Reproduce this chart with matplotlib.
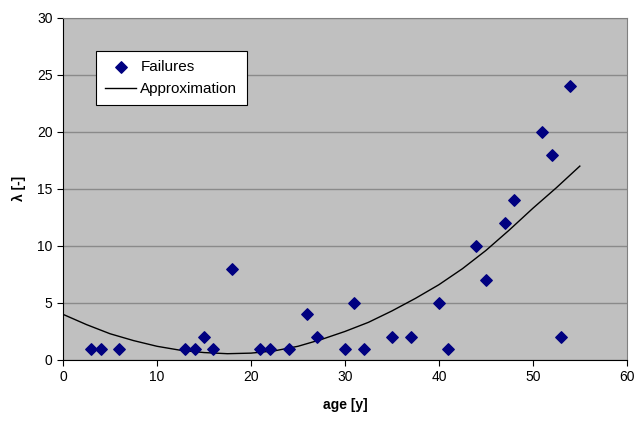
import matplotlib
matplotlib.use('Agg')
from matplotlib import pyplot as plt

plt.rcParams['font.family'] = ['Liberation Sans', 'DejaVu Sans']

# failure data
age = [3, 4, 6, 13, 14, 15, 16, 18, 21, 22, 24, 26, 27, 30, 31, 32, 35, 37,
       40, 41, 44, 45, 47, 48, 51, 52, 53, 54]
failures = [1, 1, 1, 1, 1, 2, 1, 8, 1, 1, 1, 4, 2, 1, 5, 1, 2, 2,
            5, 1, 10, 7, 12, 14, 20, 18, 2, 24]

# approximation curve
approx_x = [0, 2.5, 5, 7.5, 10, 12.5, 15, 17.5, 20, 22.5, 25, 27.5, 30,
            32.5, 35, 37.5, 40, 42.5, 45, 47.5, 50, 52.5, 55]
approx_y = [4.0, 3.1, 2.3, 1.7, 1.2, 0.85, 0.65, 0.55, 0.6, 0.8, 1.2, 1.8, 2.5,
            3.3, 4.3, 5.4, 6.6, 8.0, 9.6, 11.4, 13.3, 15.1, 17.0]

fig = plt.figure(figsize=(6.37, 4.25), dpi=100)
ax = fig.add_axes([0.099, 0.153, 0.885, 0.805])
ax.set_facecolor('#c0c0c0')

ax.scatter(age, failures, marker='D', s=34, color='#000080', zorder=3, label='Failures')
ax.plot(approx_x, approx_y, color='black', lw=1.0, zorder=2, label='Approximation')

ax.set_xlim(0, 60)
ax.set_ylim(0, 30)
ax.set_xticks(range(0, 61, 10))
ax.set_yticks(range(0, 31, 5))
ax.yaxis.grid(True, color='#8a8a8a', lw=1.0)
ax.set_axisbelow(True)
ax.tick_params(direction='out', length=4, labelsize=10, color='black')

ax.spines['top'].set_color('#808080')
ax.spines['right'].set_color('#808080')
ax.spines['left'].set_color('black')
ax.spines['bottom'].set_color('black')

ax.set_xlabel('age [y]', fontsize=10, fontweight='bold', labelpad=10)
ax.set_ylabel('λ [-]', fontsize=10, fontweight='bold', labelpad=8)

leg = ax.legend(loc='upper left', bbox_to_anchor=(0.045, 0.925), fontsize=11,
                fancybox=False, framealpha=1, edgecolor='black',
                handlelength=2.0, handletextpad=0.3, borderpad=0.6,
                labelspacing=0.5)
leg.get_frame().set_linewidth(0.8)

fig.savefig('out.png', dpi=100)
